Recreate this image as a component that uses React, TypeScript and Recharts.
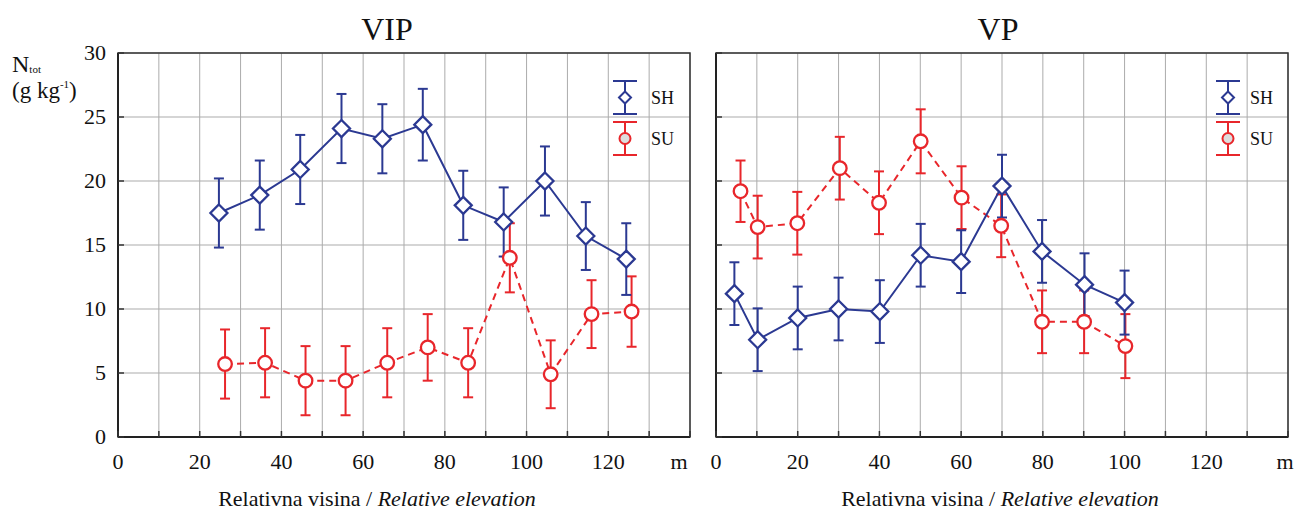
import React from 'react'
import { ComposedChart, Line, XAxis, YAxis, CartesianGrid, ErrorBar, ReferenceArea, Legend } from 'recharts'

const FONT = '"Liberation Serif", "Times New Roman", serif'
const BLUE = '#2b3992'
const RED = '#e8262b'
const GRID = '#ababab'
const FRAME = '#333'
const serif = { fontFamily: FONT }

// axis ticks and their labels
const xTicks = [0, 10, 20, 30, 40, 50, 60, 70, 80, 90, 100, 110, 120, 130, 140]
const xLabels = ['0', '', '20', '', '40', '', '60', '', '80', '', '100', '', '120', '', 'm']
const yTicks = [0, 5, 10, 15, 20, 25, 30]

// VIP panel
const vipShX = [24.7, 34.7, 44.6, 54.7, 64.7, 74.6, 84.5, 94.4, 104.5, 114.5, 124.4]
const vipShN = [17.5, 18.9, 20.9, 24.1, 23.3, 24.4, 18.1, 16.8, 20.0, 15.7, 13.9]
const vipShErr = [2.7, 2.7, 2.7, 2.7, 2.7, 2.8, 2.7, 2.7, 2.7, 2.65, 2.8]
const vipSuX = [26.2, 36.0, 45.9, 55.7, 65.9, 75.8, 85.7, 95.9, 105.9, 115.9, 125.7]
const vipSuN = [5.7, 5.8, 4.4, 4.4, 5.8, 7.0, 5.8, 14.0, 4.9, 9.6, 9.8]
const vipSuErr = [2.7, 2.7, 2.7, 2.7, 2.7, 2.6, 2.7, 2.7, 2.65, 2.65, 2.75]

// VP panel
const vpShX = [4.5, 10.2, 20, 30, 40.1, 50.1, 60, 70, 79.8, 90.2, 100]
const vpShN = [11.2, 7.6, 9.3, 10.0, 9.8, 14.2, 13.7, 19.6, 14.5, 11.9, 10.5]
const vpShErr = [2.45, 2.45, 2.45, 2.45, 2.45, 2.45, 2.45, 2.45, 2.45, 2.45, 2.5]
const vpSuX = [6, 10.2, 19.9, 30.3, 39.9, 50.1, 60.1, 69.8, 79.8, 90.1, 100.2]
const vpSuN = [19.2, 16.4, 16.7, 21.0, 18.3, 23.1, 18.7, 16.5, 9.0, 9.0, 7.1]
const vpSuErr = [2.4, 2.45, 2.45, 2.45, 2.45, 2.5, 2.45, 2.45, 2.45, 2.45, 2.5]

const toRows = (xs: number[], ns: number[], errs: number[]) =>
  xs.map((x, i) => ({ x, n: ns[i], err: errs[i] }))

const DiamondDot = (p: any) => {
  const { cx, cy, index } = p
  if (cx == null || cy == null) return <g key={index} />
  const r = 8.5
  return (
    <polygon
      key={index}
      points={`${cx},${cy - r} ${cx + r},${cy} ${cx},${cy + r} ${cx - r},${cy}`}
      fill="#fff"
      stroke={BLUE}
      strokeWidth={2.3}
    />
  )
}

const CircleDot = (p: any) => {
  const { cx, cy, index } = p
  if (cx == null || cy == null) return <g key={index} />
  return <circle key={index} cx={cx} cy={cy} r={6.8} fill="#fff" stroke={RED} strokeWidth={2.3} />
}

const makeXTick = (mOffset: number) => (props: any) => {
  const { x, y, payload, index } = props
  const i = xTicks.indexOf(payload.value)
  const label = i >= 0 ? xLabels[i] : ''
  return (
    <g key={index}>
      <line x1={x} y1={y} x2={x} y2={y - 6} stroke={FRAME} strokeWidth={1.5} />
      {label && (
        <text
          x={label === 'm' ? x + mOffset : x}
          y={y + 32}
          textAnchor="middle"
          style={serif}
          fontSize={22}
          fill="#111"
        >
          {label}
        </text>
      )}
    </g>
  )
}

const makeYTick = (showLabel: boolean) => (props: any) => {
  const { x, y, payload, index } = props
  return (
    <g key={index}>
      <line x1={x} y1={y} x2={x + 6} y2={y} stroke={FRAME} strokeWidth={1.5} />
      {showLabel && (
        <text x={x - 12} y={y + 7} textAnchor="end" style={serif} fontSize={22} fill="#111">
          {payload.value}
        </text>
      )}
    </g>
  )
}

const LegendBox = ({ payload, textDx }: any) => {
  const items = [...(payload || [])].sort((a: any, b: any) => String(a.value).localeCompare(String(b.value)))
  return (
    <svg width={80} height={90} style={{ display: 'block' }}>
      {items.map((it: any, i: number) => {
        const top = 6 + i * 41
        const bottom = top + 33
        const mid = (top + bottom) / 2
        const c = it.color
        const cx = 28
        return (
          <g key={it.value}>
            <line x1={cx - 12} y1={top} x2={cx + 12} y2={top} stroke={c} strokeWidth={2} />
            <line x1={cx - 12} y1={bottom} x2={cx + 12} y2={bottom} stroke={c} strokeWidth={2} />
            <line x1={cx} y1={top} x2={cx} y2={bottom} stroke={c} strokeWidth={2} />
            {it.value === 'SH' ? (
              <polygon
                points={`${cx},${mid - 6} ${cx + 6},${mid} ${cx},${mid + 6} ${cx - 6},${mid}`}
                fill="#fff"
                stroke={c}
                strokeWidth={2}
              />
            ) : (
              <circle cx={cx} cy={mid} r={5.5} fill="#ddd" stroke={c} strokeWidth={2} />
            )}
            <text x={cx + textDx} y={mid + 6} style={serif} fontSize={18} fill="#111">
              {it.value}
            </text>
          </g>
        )
      })}
    </svg>
  )
}

interface PanelProps {
  left: number
  width: number
  margin: { top: number; right: number; bottom: number; left: number }
  yWidth: number
  showY: boolean
  mOffset: number
  legendLeft: number
  textDx: number
  sh: { x: number; n: number; err: number }[]
  su: { x: number; n: number; err: number }[]
}

const Panel: React.FC<PanelProps> = ({ left, width, margin, yWidth, showY, mOffset, legendLeft, textDx, sh, su }) => (
  <div style={{ position: 'absolute', left, top: 0 }}>
    <ComposedChart width={width} height={512} margin={margin}>
      <CartesianGrid stroke={GRID} strokeWidth={1} />
      <XAxis
        type="number"
        dataKey="x"
        domain={[0, 140]}
        ticks={xTicks}
        interval={0}
        allowDataOverflow
        height={30}
        tickSize={0}
        tickMargin={0}
        tickLine={false}
        axisLine={{ stroke: '#222', strokeWidth: 2 }}
        tick={makeXTick(mOffset)}
      />
      <YAxis
        type="number"
        domain={[0, 30]}
        ticks={yTicks}
        interval={0}
        allowDataOverflow
        width={yWidth}
        tickSize={0}
        tickMargin={0}
        tickLine={false}
        axisLine={{ stroke: '#222', strokeWidth: 2 }}
        tick={makeYTick(showY)}
      />
      <ReferenceArea x1={0} x2={140} y1={0} y2={30} fill="none" fillOpacity={0} stroke={FRAME} strokeWidth={1.5} />
      <Legend
        layout="vertical"
        align="center"
        verticalAlign="middle"
        wrapperStyle={{ left: legendLeft, top: 75, width: 80, height: 90 }}
        content={(props: any) => <LegendBox payload={props.payload} textDx={textDx} />}
      />
      <Line
        data={su}
        dataKey="n"
        name="SU"
        stroke={RED}
        strokeWidth={2}
        strokeDasharray="7 5"
        dot={CircleDot}
        activeDot={false}
        isAnimationActive={false}
      >
        <ErrorBar dataKey="err" direction="y" width={5} stroke={RED} strokeWidth={2} />
      </Line>
      <Line
        data={sh}
        dataKey="n"
        name="SH"
        stroke={BLUE}
        strokeWidth={2}
        dot={DiamondDot}
        activeDot={false}
        isAnimationActive={false}
      >
        <ErrorBar dataKey="err" direction="y" width={5} stroke={BLUE} strokeWidth={2} />
      </Line>
    </ComposedChart>
  </div>
)

const App: React.FC = () => {
  const vipSh = toRows(vipShX, vipShN, vipShErr)
  const vipSu = toRows(vipSuX, vipSuN, vipSuErr)
  const vpSh = toRows(vpShX, vpShN, vpShErr)
  const vpSu = toRows(vpSuX, vpSuN, vpSuErr)

  return (
    <div
      style={{
        position: 'absolute',
        left: 0,
        top: 0,
        width: 1297,
        height: 512,
        background: '#fff',
        overflow: 'hidden',
        fontFamily: FONT,
      }}
    >
      <Panel
        left={0}
        width={700}
        margin={{ top: 53, right: 10, bottom: 45, left: 78 }}
        yWidth={40}
        showY
        mOffset={-11}
        legendLeft={597}
        textDx={26}
        sh={vipSh}
        su={vipSu}
      />
      <Panel
        left={700}
        width={597}
        margin={{ top: 53, right: 9, bottom: 45, left: 6 }}
        yWidth={10}
        showY={false}
        mOffset={-3}
        legendLeft={500}
        textDx={22}
        sh={vpSh}
        su={vpSu}
      />
      <svg width={1297} height={512} style={{ position: 'absolute', left: 0, top: 0, pointerEvents: 'none' }}>
        <g style={serif} fill="#111">
          <text x={387} y={40} fontSize={32} textAnchor="middle">VIP</text>
          <text x={998} y={40} fontSize={32} textAnchor="middle">VP</text>
          <text x={12} y={72} fontSize={24}>
            N<tspan fontSize={11} dy={1}>tot</tspan>
          </text>
          <text x={12} y={98} fontSize={23}>
            (g kg<tspan fontSize={11} dy={-10}>-1</tspan><tspan dy={10}>)</tspan>
          </text>
          <text x={377} y={506} fontSize={22} textAnchor="middle">
            Relativna visina / <tspan fontStyle="italic">Relative elevation</tspan>
          </text>
          <text x={1000} y={506} fontSize={22} textAnchor="middle">
            Relativna visina / <tspan fontStyle="italic">Relative elevation</tspan>
          </text>
        </g>
      </svg>
    </div>
  )
}

export default App
